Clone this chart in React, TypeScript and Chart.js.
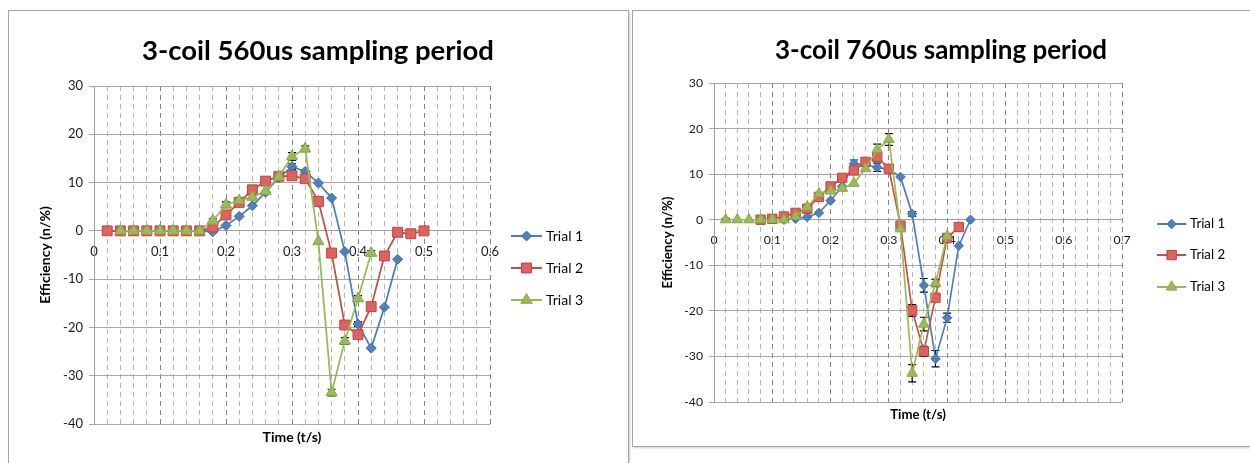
import React, { useEffect, useRef } from "react";
import { Chart, registerables } from "chart.js";

Chart.register(...registerables);

// ---------------- Data: 3-coil 560us sampling period ----------------
const TIME_560 = [0.02, 0.04, 0.06, 0.08, 0.1, 0.12, 0.14, 0.16, 0.18, 0.2, 0.22, 0.24, 0.26, 0.28, 0.3, 0.32, 0.34, 0.36, 0.38, 0.4, 0.42, 0.44, 0.46, 0.48, 0.5];
const TRIAL1_560 = [0, 0, 0, 0, 0, 0, 0, 0, -0.2, 1.1, 3.0, 5.2, 8.0, 11.0, 13.3, 12.3, 9.9, 6.8, -4.3, -19.3, -24.3, -15.8, -5.9, null, null];
const TRIAL2_560 = [0, 0, 0, 0, 0, 0, 0, 0, 0.8, 3.3, 5.9, 8.5, 10.3, 11.3, 11.4, 10.8, 6.1, -4.6, -19.5, -21.5, -15.7, -5.2, -0.3, -0.6, 0.0];
const TRIAL3_560 = [null, 0, 0, 0, 0, 0, 0, 0, 2.1, 5.4, 6.3, 7.0, 8.2, 11.2, 15.4, 17.0, -2.2, -33.5, -22.8, -14.0, -4.6, null, null, null, null];
const ERR1_560 = [0, 0, 0, 0, 0, 0, 0, 0, 0, 0, 0, 0, 0, 0, 0.6, 0, 0, 0, 0, 0.5, 0, 0, 0, 0, 0];
const ERR2_560 = [0, 0, 0, 0, 0, 0, 0, 0, 0, 0, 0, 0, 0, 0, 0, 0, 0, 0, 0, 0, 0, 0, 0, 0, 0];
const ERR3_560 = [0, 0, 0, 0, 0, 0, 0, 0, 0.4, 0.6, 0.6, 0.5, 0, 0, 0.8, 0.6, 0, 0.7, 0.7, 0.6, 0.5, 0, 0, 0, 0];

// ---------------- Data: 3-coil 760us sampling period ----------------
const TIME_760 = [0.02, 0.04, 0.06, 0.08, 0.1, 0.12, 0.14, 0.16, 0.18, 0.2, 0.22, 0.24, 0.26, 0.28, 0.3, 0.32, 0.34, 0.36, 0.38, 0.4, 0.42, 0.44];
const TRIAL1_760 = [null, null, null, null, null, 0, 0.2, 0.6, 1.5, 4.2, 7.3, 12.3, 12.0, 11.5, 11.0, 9.4, 1.3, -14.4, -30.5, -21.5, -5.7, 0];
const TRIAL2_760 = [null, null, null, 0, 0.2, 0.7, 1.5, 2.4, 5.0, 7.3, 9.2, 10.8, 12.7, 13.8, 11.2, -1.3, -19.9, -28.9, -17.1, -4.0, -1.6, null];
const TRIAL3_760 = [0, 0, 0, 0, 0, 0, 0.7, 2.8, 5.7, 6.3, 6.9, 8.0, 11.2, 15.4, 17.6, -2.0, -33.7, -22.9, -13.9, -3.6, null, null];
const ERR1_760 = [0, 0, 0, 0, 0, 0, 0, 0, 0, 0, 0, 0.8, 0, 0.9, 0, 0, 0.5, 1.5, 1.8, 1.0, 0, 0];
const ERR2_760 = [0, 0, 0, 0, 0, 0, 0, 0, 0, 0, 0, 0, 0, 0, 0.8, 0, 1.3, 1.1, 0, 0, 0, 0];
const ERR3_760 = [0.3, 0, 0, 0, 0, 0, 0, 0, 0, 0, 0, 0, 0, 1.2, 1.3, 0, 1.9, 1.5, 0.8, 0, 0, 0];

const SERIES_NAMES = ["Trial 1", "Trial 2", "Trial 3"];
const Y_TITLE = "Efficiency (n/%)";
const X_TITLE = "Time (t/s)";
const Y_MIN = -40;
const Y_MAX = 30;
const Y_STEP = 10;
const X_STEP = 0.02;

const STYLES = [
  { line: "#4a7ebb", fill: "#4f81bd", stroke: "#3d6fa9", shape: "rectRot", r: 5 },
  { line: "#c0504d", fill: "#e0625e", stroke: "#b94643", shape: "rect", r: 7 },
  { line: "#98b954", fill: "#9bbb59", stroke: "#88a847", shape: "triangle", r: 6.5 },
];

const FONT = "Lato";

function drawMarker(ctx: CanvasRenderingContext2D, shape: string, x: number, y: number, r: number) {
  ctx.beginPath();
  if (shape === "rectRot") {
    ctx.moveTo(x - r, y);
    ctx.lineTo(x, y - r);
    ctx.lineTo(x + r, y);
    ctx.lineTo(x, y + r);
    ctx.closePath();
  } else if (shape === "rect") {
    const h = r * Math.SQRT1_2;
    ctx.rect(x - h, y - h, 2 * h, 2 * h);
  } else {
    for (let k = 0; k < 3; k++) {
      const a = (k * 2 * Math.PI) / 3;
      const px = x + Math.sin(a) * r;
      const py = y - Math.cos(a) * r;
      if (k === 0) ctx.moveTo(px, py);
      else ctx.lineTo(px, py);
    }
    ctx.closePath();
  }
  ctx.fill();
  ctx.stroke();
}

const decorPlugin = {
  id: "decor",
  beforeDatasetsDraw(chart: any) {
    const ctx = chart.ctx as CanvasRenderingContext2D;
    const y = chart.scales.y;
    ctx.save();
    ctx.strokeStyle = "#000";
    ctx.lineWidth = 1.2;
    chart.data.datasets.forEach((ds: any, i: number) => {
      const meta = chart.getDatasetMeta(i);
      ds.data.forEach((d: any, j: number) => {
        if (!d || !d.e) return;
        const el = meta.data[j];
        const x = el.x;
        const yt = y.getPixelForValue(d.y + d.e);
        const yb = y.getPixelForValue(d.y - d.e);
        ctx.beginPath();
        ctx.moveTo(x, yt);
        ctx.lineTo(x, yb);
        ctx.moveTo(x - 4, yt);
        ctx.lineTo(x + 4, yt);
        ctx.moveTo(x - 4, yb);
        ctx.lineTo(x + 4, yb);
        ctx.stroke();
      });
    });
    ctx.restore();
  },
  afterDraw(chart: any, _args: any, o: any) {
    const ctx = chart.ctx as CanvasRenderingContext2D;
    const ca = chart.chartArea;
    const s = o.s;
    ctx.save();
    ctx.fillStyle = "#000";
    ctx.textAlign = "center";
    ctx.textBaseline = "alphabetic";
    ctx.font = `bold ${27.5 * s}px ${FONT}`;
    ctx.fillText(o.title, o.titleX, o.titleY);

    ctx.font = `bold ${14 * s}px ${FONT}`;
    ctx.textBaseline = "middle";
    ctx.fillText(X_TITLE, (ca.left + ca.right) / 2, ca.bottom + 13);

    // legend
    ctx.font = `${14 * s}px ${FONT}`;
    ctx.textAlign = "left";
    for (let i = 0; i < SERIES_NAMES.length; i++) {
      const st = STYLES[i];
      const ly = o.legendY[i];
      const lx = o.legendX;
      ctx.strokeStyle = st.line;
      ctx.lineWidth = 2;
      ctx.beginPath();
      ctx.moveTo(lx, ly);
      ctx.lineTo(lx + 31 * s, ly);
      ctx.stroke();
      ctx.fillStyle = st.fill;
      ctx.strokeStyle = st.stroke;
      ctx.lineWidth = 1;
      drawMarker(ctx, st.shape, lx + 15.5 * s, ly, st.r * s);
      ctx.fillStyle = "#000";
      ctx.fillText(SERIES_NAMES[i], lx + 35 * s, ly);
    }
    ctx.restore();
  },
};

type Spec = {
  left: number;
  width: number;
  title: string;
  time: number[];
  series: (number | null)[][];
  errors: number[][];
  xMax: number;
  pad: { left: number; top: number; right: number; bottom: number };
  yAxisWidth: number;
  s: number;
  titleX: number;
  titleY: number;
  legendX: number;
  legendY: number[];
};

const isMajor = (v: number) => Math.abs(v * 10 - Math.round(v * 10)) < 1e-6;

function Panel({ spec }: { spec: Spec }) {
  const ref = useRef<HTMLCanvasElement>(null);
  useEffect(() => {
    const canvas = ref.current!;
    const s = spec.s;
    const datasets = spec.series.map((vals, i) => ({
      label: SERIES_NAMES[i],
      data: spec.time
        .map((t, j) => ({ x: t, y: vals[j], e: spec.errors[i][j] }))
        .filter((p) => p.y !== null),
      borderColor: STYLES[i].line,
      borderWidth: 1.75 * s,
      backgroundColor: STYLES[i].fill,
      pointStyle: STYLES[i].shape,
      pointRadius: STYLES[i].r * s,
      pointBackgroundColor: STYLES[i].fill,
      pointBorderColor: STYLES[i].stroke,
      pointBorderWidth: 1,
      tension: 0,
      order: 2 - i,
    }));
    const chart = new Chart(canvas, {
      type: "line",
      data: { datasets } as any,
      options: {
        responsive: false,
        animation: false,
        devicePixelRatio: 1,
        layout: { padding: spec.pad },
        plugins: {
          legend: { display: false },
          tooltip: { enabled: false },
          decor: {
            s,
            title: spec.title,
            titleX: spec.titleX,
            titleY: spec.titleY,
            legendX: spec.legendX,
            legendY: spec.legendY,
          },
        } as any,
        scales: {
          x: {
            type: "linear",
            min: 0,
            max: spec.xMax,
            position: { y: 0 } as any,
            ticks: {
              stepSize: X_STEP,
              autoSkip: false,
              maxRotation: 0,
              minRotation: 0,
              padding: 13,
              color: "#1a1a1a",
              font: { family: FONT, size: 13 * s },
              callback: (v: any) => {
                const n = Number(v);
                if (!isMajor(n)) return "";
                return Math.abs(n) < 1e-9 ? "0" : n.toFixed(1);
              },
            },
            grid: {
              drawTicks: false,
              lineWidth: 1,
              color: (c: any) => (c.tick && isMajor(c.tick.value) ? "#858585" : "#b5b5b5"),
            },
            border: { display: true, color: "#a0a0a0", width: 1, dash: [5, 4] },
          },
          y: {
            type: "linear",
            min: Y_MIN,
            max: Y_MAX,
            afterFit: (sc: any) => {
              sc.width = spec.yAxisWidth;
            },
            ticks: {
              stepSize: Y_STEP,
              padding: 6,
              color: "#1a1a1a",
              font: { family: FONT, size: 13 * s },
            },
            grid: {
              color: "#a6a6a6",
              lineWidth: 1,
              tickLength: 5,
              tickColor: "#a6a6a6",
            },
            border: { display: true, color: "#a0a0a0", width: 1 },
            title: {
              display: true,
              text: Y_TITLE,
              color: "#000",
              padding: 0,
              font: { family: FONT, size: 14 * s, weight: "bold" },
            },
          },
        },
      } as any,
      plugins: [decorPlugin as any],
    });
    return () => chart.destroy();
  }, []);
  return (
    <div style={{ position: "absolute", left: spec.left, top: 0, width: spec.width, height: 463 }}>
      <canvas ref={ref} width={spec.width} height={463} style={{ display: "block" }} />
    </div>
  );
}

const LEFT_SPEC: Spec = {
  left: 0,
  width: 630,
  title: "3-coil 560us sampling period",
  time: TIME_560,
  series: [TRIAL1_560, TRIAL2_560, TRIAL3_560],
  errors: [ERR1_560, ERR2_560, ERR3_560],
  xMax: 0.6,
  pad: { left: 37, top: 86, right: 140, bottom: 39 },
  yAxisWidth: 57,
  s: 1,
  titleX: 318,
  titleY: 60,
  legendX: 511,
  legendY: [236, 268, 300],
};

const RIGHT_SPEC: Spec = {
  left: 630,
  width: 620,
  title: "3-coil 760us sampling period",
  time: TIME_760,
  series: [TRIAL1_760, TRIAL2_760, TRIAL3_760],
  errors: [ERR1_760, ERR2_760, ERR3_760],
  xMax: 0.7,
  pad: { left: 30, top: 83, right: 128, bottom: 61 },
  yAxisWidth: 54,
  s: 0.944,
  titleX: 311,
  titleY: 59,
  legendX: 527,
  legendY: [224, 255, 287],
};

export default function App() {
  return (
    <div
      style={{
        position: "fixed",
        left: 0,
        top: 0,
        width: 1250,
        height: 463,
        overflow: "hidden",
        background: "#fff",
      }}
    >
      <div
        style={{
          position: "absolute",
          left: 8,
          top: 10,
          width: 619,
          height: 480,
          border: "1px solid #a5a5a5",
          boxShadow: "1px 1px 2px #d0d0d0",
        }}
      />
      <div
        style={{
          position: "absolute",
          left: 632,
          top: 10,
          width: 640,
          height: 435,
          border: "1px solid #a5a5a5",
          boxShadow: "1px 1px 2px #d0d0d0",
        }}
      />
      <Panel spec={LEFT_SPEC} />
      <Panel spec={RIGHT_SPEC} />
    </div>
  );
}
